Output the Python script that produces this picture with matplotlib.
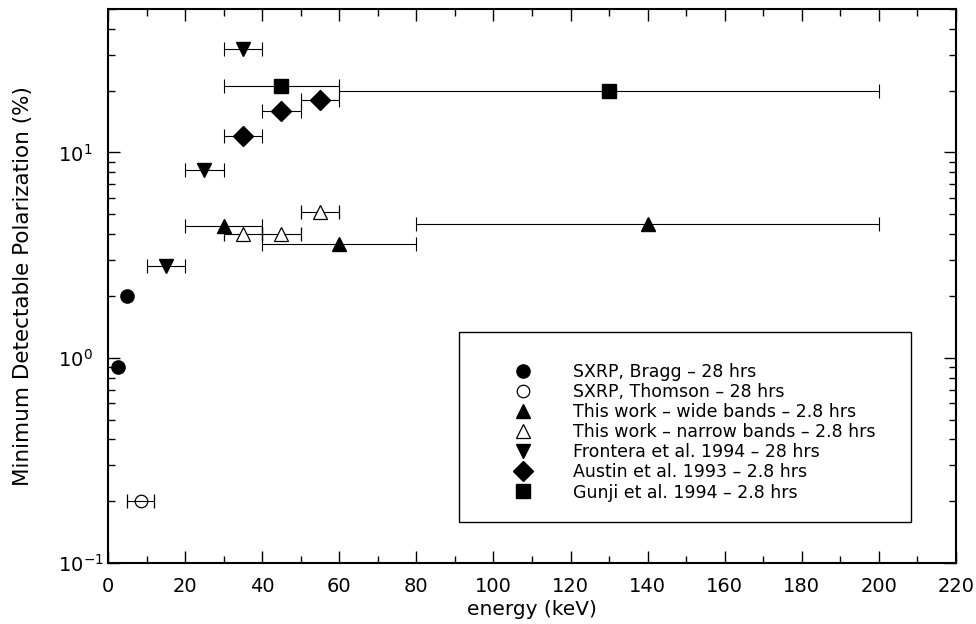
import matplotlib
matplotlib.use("Agg")
import matplotlib.pyplot as plt
from matplotlib.patches import Rectangle
from matplotlib.ticker import MultipleLocator, LogLocator, NullFormatter

# SXRP, Bragg - no energy band
bragg_e = [2.5, 5.0]
bragg_mdp = [0.9, 2.0]

# SXRP, Thomson
thomson_e = [8.5]
thomson_mdp = [0.2]
thomson_lo = [5.0]
thomson_hi = [12.0]

# This work - wide bands
wide_e = [30.0, 60.0, 140.0]
wide_mdp = [4.4, 3.6, 4.5]
wide_lo = [20.0, 40.0, 80.0]
wide_hi = [40.0, 80.0, 200.0]

# This work - narrow bands
narrow_e = [35.0, 45.0, 55.0]
narrow_mdp = [4.0, 4.0, 5.1]
narrow_lo = [30.0, 40.0, 50.0]
narrow_hi = [40.0, 50.0, 60.0]

# Frontera et al. 1994
frontera_e = [15.0, 25.0, 35.0]
frontera_mdp = [2.8, 8.2, 32.0]
frontera_lo = [10.0, 20.0, 30.0]
frontera_hi = [20.0, 30.0, 40.0]

# Austin et al. 1993
austin_e = [35.0, 45.0, 55.0]
austin_mdp = [12.0, 16.0, 18.0]
austin_lo = [30.0, 40.0, 50.0]
austin_hi = [40.0, 50.0, 60.0]

# Gunji et al. 1994
gunji_e = [45.0, 130.0]
gunji_mdp = [21.0, 20.0]
gunji_lo = [30.0, 60.0]
gunji_hi = [60.0, 200.0]

labels = [
    "SXRP, Bragg \u2013 28 hrs",
    "SXRP, Thomson \u2013 28 hrs",
    "This work \u2013 wide bands \u2013 2.8 hrs",
    "This work \u2013 narrow bands \u2013 2.8 hrs",
    "Frontera et al. 1994 \u2013 28 hrs",
    "Austin et al. 1993 \u2013 2.8 hrs",
    "Gunji et al. 1994 \u2013 2.8 hrs",
]


def xerr(e, lo, hi):
    return [[c - l for c, l in zip(e, lo)], [h - c for c, h in zip(e, hi)]]


plt.rcParams['font.family'] = ['DejaVu Sans']

fig = plt.figure(figsize=(9.76, 6.24), dpi=100)
ax = fig.add_axes([108 / 976, 1 - 563 / 624, 848 / 976, 554 / 624])

eb = dict(ls='none', color='black', ecolor='black', elinewidth=0.8, capsize=5.2, capthick=0.8)

handles = []
h, = ax.plot(bragg_e, bragg_mdp, 'o', color='black', ms=9.5, ls='none')
handles.append(h)
c = ax.errorbar(thomson_e, thomson_mdp, xerr=xerr(thomson_e, thomson_lo, thomson_hi),
                fmt='o', ms=9, mfc='none', mec='black', mew=0.9, **eb)
handles.append(c[0])
c = ax.errorbar(wide_e, wide_mdp, xerr=xerr(wide_e, wide_lo, wide_hi),
                fmt='^', ms=9.5, mfc='black', mec='black', **eb)
handles.append(c[0])
c = ax.errorbar(narrow_e, narrow_mdp, xerr=xerr(narrow_e, narrow_lo, narrow_hi),
                fmt='^', ms=9.5, mfc='white', mec='black', mew=0.9, zorder=3, **eb)
handles.append(c[0])
c = ax.errorbar(frontera_e, frontera_mdp, xerr=xerr(frontera_e, frontera_lo, frontera_hi),
                fmt='v', ms=9.5, mfc='black', mec='black', **eb)
handles.append(c[0])
c = ax.errorbar(austin_e, austin_mdp, xerr=xerr(austin_e, austin_lo, austin_hi),
                fmt='D', ms=10, mfc='black', mec='black', **eb)
handles.append(c[0])
c = ax.errorbar(gunji_e, gunji_mdp, xerr=xerr(gunji_e, gunji_lo, gunji_hi),
                fmt='s', ms=9.5, mfc='black', mec='black', **eb)
handles.append(c[0])

ax.set_yscale('log')
ax.set_xlim(0, 220)
ax.set_ylim(0.1, 50)

ax.xaxis.set_major_locator(MultipleLocator(20))
ax.xaxis.set_minor_locator(MultipleLocator(10))
ax.yaxis.set_major_locator(LogLocator(base=10, numticks=10))
ax.yaxis.set_minor_locator(LogLocator(base=10, subs=range(2, 10), numticks=20))
ax.yaxis.set_minor_formatter(NullFormatter())

for s in ax.spines.values():
    s.set_linewidth(1.5)

ax.tick_params(which='both', direction='in', top=True, right=True, width=1.0)
ax.tick_params(which='major', length=8.5, labelsize=14)
ax.tick_params(which='minor', length=5)
ax.tick_params(axis='x', which='major', pad=10)
ax.tick_params(axis='y', which='major', pad=36)
for t in ax.get_yticklabels():
    t.set_horizontalalignment('left')

ax.set_xlabel('energy (keV)', fontsize=14.5, labelpad=3)
ax.set_ylabel('Minimum Detectable Polarization (%)', fontsize=15.5)
ax.yaxis.set_label_coords(-(108 - 33) / 848, 0.5)

# legend box
ax.add_patch(Rectangle(((459 - 108) / 848, (563 - 522) / 554),
                       (911 - 459) / 848, (522 - 332) / 554,
                       transform=ax.transAxes, fill=False, lw=1.0, ec='black', zorder=4))
ax.legend(handles, labels, loc='upper left', bbox_to_anchor=((514 - 108) / 848, (563 - 363) / 554),
          frameon=False, fontsize=12.5, handlelength=1.0, handletextpad=2.4,
          labelspacing=0.12, borderpad=0, borderaxespad=0, numpoints=1, markerscale=1.0)

fig.savefig('out.png', dpi=100)
